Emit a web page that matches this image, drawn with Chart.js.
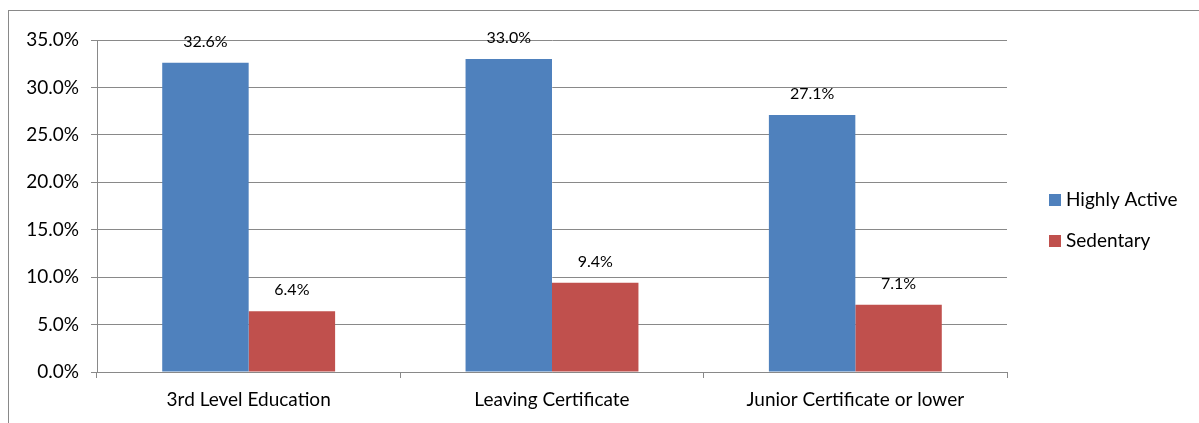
<!DOCTYPE html>
<html>
<head>
<meta charset="utf-8">
<script src="https://cdn.jsdelivr.net/npm/chart.js@4/dist/chart.umd.min.js"></script>
<style>
  html, body { margin: 0; padding: 0; background: #fff; overflow: hidden; }
  #wrap { width: 1199px; height: 423px; position: relative; }
</style>
</head>
<body>
<div id="wrap"><canvas id="edu_chart"></canvas></div>
<script>
// categories and series
const categories = ['3rd Level Education', 'Leaving Certificate', 'Junior Certificate or lower'];
const highly_active = [32.6, 33.0, 27.1];
const sedentary = [6.4, 9.4, 7.1];
const y_ticks = [0, 5, 10, 15, 20, 25, 30, 35];

const line_grey = '#898989';
const label_font = 'Lato, "Open Sans", sans-serif';

// outer frame of the chart
const frame_plugin = {
    id: 'frame',
    beforeDraw(chart) {
        let ctx = chart.ctx;
        ctx.save();
        ctx.strokeStyle = line_grey;
        ctx.lineWidth = 1;
        ctx.strokeRect(8.5, 10.5, 1400, 600);
        ctx.restore();
    }
};

// value labels above bars
const value_labels = {
    id: 'value_labels',
    afterDatasetsDraw(chart) {
        let ctx = chart.ctx;
        ctx.save();
        ctx.fillStyle = '#000';
        ctx.font = '16px ' + label_font;
        ctx.textAlign = 'center';
        ctx.textBaseline = 'alphabetic';
        chart.data.datasets.forEach((ds, i) => {
            chart.getDatasetMeta(i).data.forEach((bar, j) => {
                ctx.fillText(ds.data[j].toFixed(1) + '%', bar.x, bar.y - 16);
            });
        });
        ctx.restore();
    }
};

// legend on the right
const side_legend = {
    id: 'side_legend',
    afterDraw(chart) {
        let ctx = chart.ctx;
        let area = chart.chartArea;
        ctx.save();
        ctx.font = '19px ' + label_font;
        ctx.textBaseline = 'middle';
        ctx.textAlign = 'left';
        chart.data.datasets.forEach((ds, i) => {
            let x = area.right + 42;
            let y = area.top + 160 + i * 41;
            ctx.fillStyle = ds.backgroundColor;
            ctx.fillRect(x, y - 6, 12, 12);
            ctx.fillStyle = '#000';
            ctx.fillText(ds.label, x + 17, y);
        });
        ctx.restore();
    }
};

let data = {
    labels: categories,
    datasets: [{
        label: 'Highly Active',
        data: highly_active,
        backgroundColor: '#4F81BD',
        categoryPercentage: 0.57,
        barPercentage: 1.0
    }, {
        label: 'Sedentary',
        data: sedentary,
        backgroundColor: '#C0504D',
        categoryPercentage: 0.57,
        barPercentage: 1.0
    }]
};

let config = {
    type: 'bar',
    data: data,
    options: {
        responsive: false,
        animation: false,
        devicePixelRatio: 1,
        layout: { padding: { top: 40, left: 0, right: 192, bottom: 0 } },
        plugins: {
            legend: { display: false },
            tooltip: { enabled: false }
        },
        scales: {
            x: {
                grid: {
                    offset: true,
                    drawOnChartArea: false,
                    drawTicks: true,
                    tickLength: 6,
                    color: line_grey
                },
                border: { color: line_grey, width: 1 },
                ticks: {
                    color: '#000',
                    font: { family: label_font, size: 19 },
                    padding: 10
                },
                afterFit(scale) { scale.height = 51; }
            },
            y: {
                min: 0,
                max: 35,
                afterBuildTicks(scale) {
                    scale.ticks = y_ticks.map(v => ({ value: v }));
                },
                grid: {
                    color: line_grey,
                    tickLength: 6
                },
                border: { color: line_grey, width: 1 },
                ticks: {
                    color: '#000',
                    font: { family: label_font, size: 19 },
                    padding: 12,
                    callback: v => v.toFixed(1) + '%'
                },
                afterFit(scale) { scale.width = 97; }
            }
        }
    },
    plugins: [frame_plugin, value_labels, side_legend]
};

let canvas = document.getElementById('edu_chart');
canvas.width = 1199;
canvas.height = 423;
let edu_chart = new Chart(canvas, config);
</script>
</body>
</html>
